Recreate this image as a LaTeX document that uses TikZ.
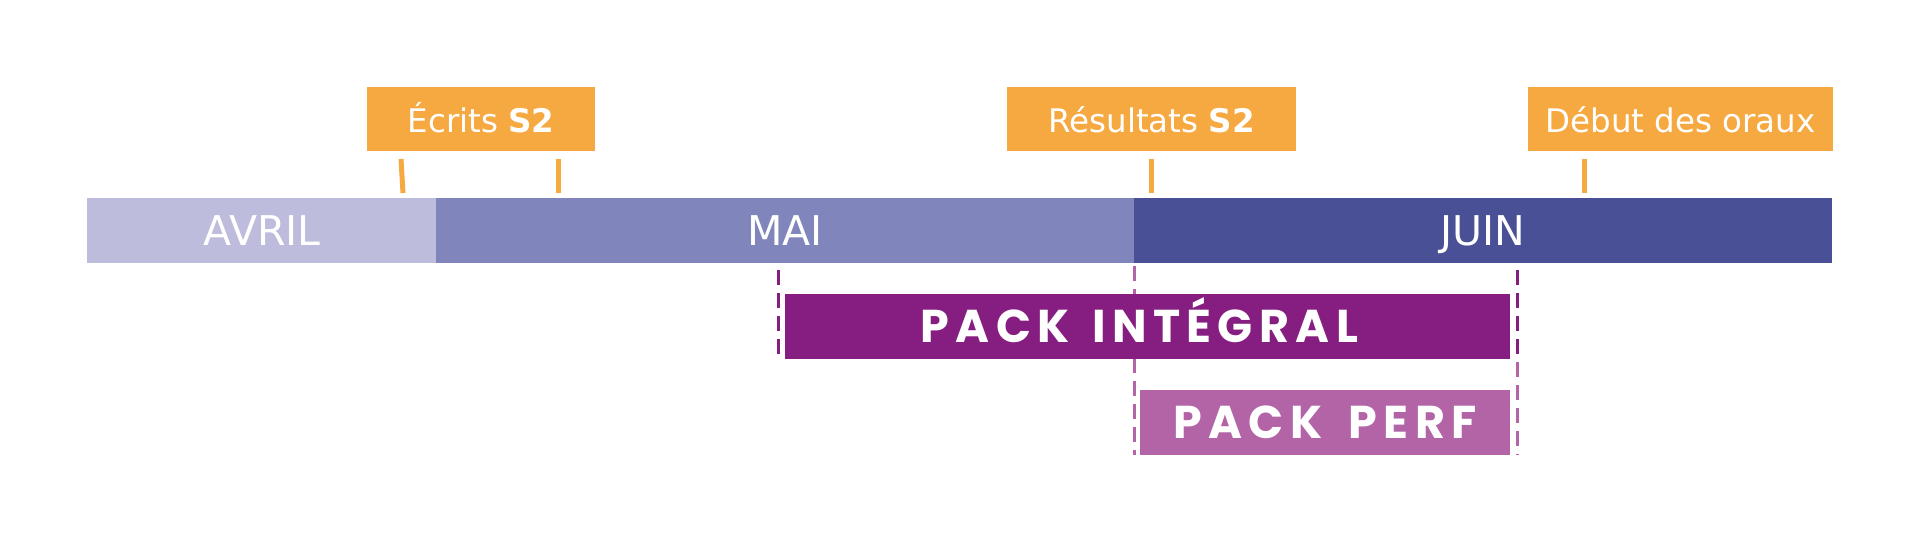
\documentclass[tikz,border=0pt]{standalone}
\usepackage{fontspec}
\setmainfont{DejaVu Sans}
\newfontfamily\packfont{Poppins}[LetterSpace=14]
\definecolor{orangeS}{HTML}{F7A941}
\definecolor{avrilC}{HTML}{BDBCDC}
\definecolor{maiC}{HTML}{8086BC}
\definecolor{juinC}{HTML}{4A5096}
\definecolor{integralC}{HTML}{861E81}
\definecolor{perfC}{HTML}{B264A6}
\tikzset{
  month/.style={inner sep=0pt, minimum height=65pt, text=white,
    font=\fontsize{41}{41}\selectfont, text height=30pt, text depth=0pt},
  event/.style={fill=orangeS, inner sep=0pt, minimum height=64pt, text=white,
    font=\fontsize{32.5}{32.5}\selectfont, text height=23.5pt, text depth=0pt},
  packbox/.style={inner sep=0pt, minimum height=65pt, text=white,
    font=\packfont\bfseries\fontsize{46}{46}\selectfont, text height=32pt, text depth=0pt},
  tick/.style={draw=orangeS, line width=5pt},
  guide/.style={line width=3pt, dash pattern=on 15pt off 8pt}
}
\begin{document}
\begin{tikzpicture}[x=1pt,y=-1pt]
\useasboundingbox (0,0) rectangle (1920,541);
% month bar
\node[month, fill=avrilC, minimum width=350pt] (avril) at (262,230.5) {AVRIL};
\node[month, fill=maiC, minimum width=698pt] (mai) at (785,230.5) {MAI};
\node[month, fill=juinC, minimum width=698pt] (juin) at (1483,230.5) {JUIN};
% events
\node[event, minimum width=228pt] (ecrits) at (481,119) {\raisebox{-1.5pt}{Écrits \textbf{S2}}};
\node[event, minimum width=289pt] (resultats) at (1151.5,119) {\raisebox{-1.5pt}{Résultats \textbf{S2}}};
\node[event, minimum width=305pt] (debut) at (1680.5,119) {\raisebox{-1.5pt}{Début des oraux}};
% ticks
\coordinate (t1a) at (401,159); \coordinate (t1b) at (403,193);
\coordinate (t2a) at (558,159); \coordinate (t2b) at (558,193);
\coordinate (t3a) at (1151,159); \coordinate (t3b) at (1151,193);
\coordinate (t4a) at (1584,159); \coordinate (t4b) at (1584,193);
\draw[tick] (t1a) -- (t1b);
\draw[tick] (t2a) -- (t2b);
\draw[tick] (t3a) -- (t3b);
\draw[tick] (t4a) -- (t4b);
% guide lines (behind the packs)
\coordinate (g1a) at (778,270); \coordinate (g1b) at (778,359);
\coordinate (g2a) at (1134,266); \coordinate (g2b) at (1134,455);
\coordinate (g3a) at (1517,270); \coordinate (g3b) at (1517,455);
\coordinate (g4b) at (1517,359);
\draw[guide, draw=perfC] (g2a) -- (g2b);
\draw[guide, draw=perfC] (g3a) -- (g3b);
\draw[guide, draw=integralC] (g1a) -- (g1b);
\draw[guide, draw=integralC] (g3a) -- (g4b);
% packs
\node[packbox, fill=integralC, minimum width=725pt] (integral) at (1147.5,326.5) {\hspace*{-16pt}PACK\hspace{6pt} INTÉGRAL};
\node[packbox, fill=perfC, minimum width=370pt] (perf) at (1325,422.5) {PACK\hspace{10pt} PERF};
\end{tikzpicture}
\end{document}
